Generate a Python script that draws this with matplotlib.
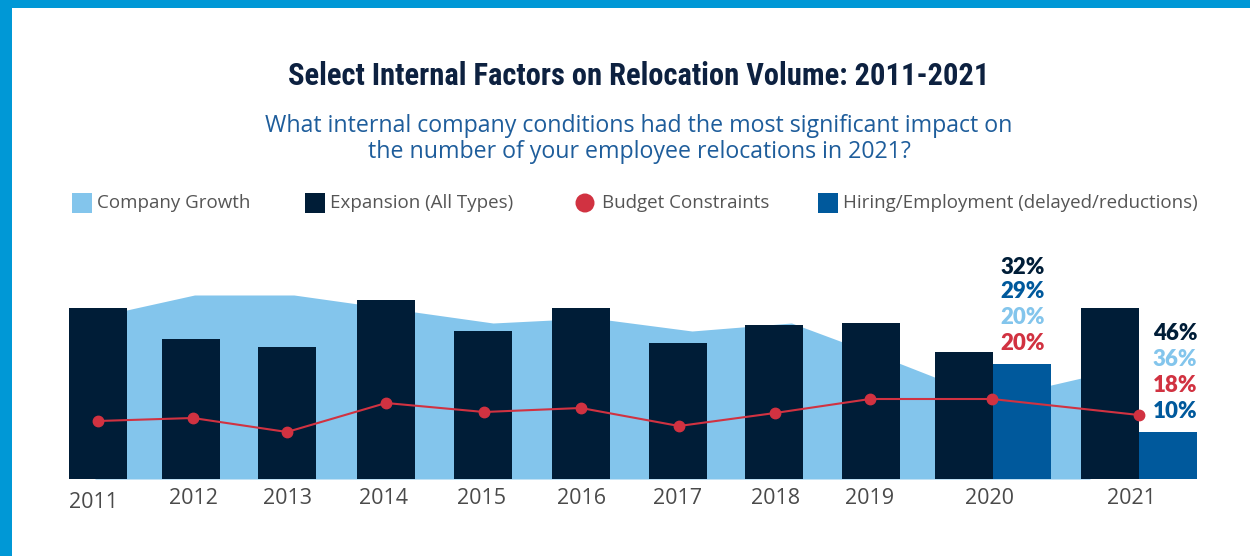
import numpy as np
import matplotlib
matplotlib.use("Agg")
import matplotlib.pyplot as plt
from matplotlib.patches import Rectangle, Circle
from matplotlib import font_manager

# ---------------- data ----------------
years = ['2011', '2012', '2013', '2014', '2015', '2016', '2017', '2018', '2019', '2020', '2021']
expansion = [42.75, 35, 33, 44.75, 37, 42.75, 34, 38.5, 39, 31.75, 42.75]
company_growth = [40.5, 46, 46, 42.5, 39, 40.25, 37, 39, 29.75, 20, 25.75]
budget = [14.5, 15.25, 11.75, 19, 16.75, 17.75, 13.25, 16.5, 20, 20, 16]
hiring_years = ['2020', '2021']
hiring = [28.75, 11.75]

labels_2020 = [32, 29, 20, 20]   # Expansion, Hiring, Company Growth, Budget
labels_2021 = [46, 36, 18, 10]   # Expansion, Company Growth, Budget, Hiring

legend_labels = ['Company Growth', 'Expansion (All Types)', 'Budget Constraints',
                 'Hiring/Employment (delayed/reductions)']

title = 'Select Internal Factors on Relocation Volume: 2011-2021'
subtitle1 = 'What internal company conditions had the most significant impact on'
subtitle2 = 'the number of your employee relocations in 2021?'

# ---------------- style ----------------
C_BORDER = '#0098d6'
C_DARK = '#001d37'
C_HIRE = '#00599c'
C_LIGHT = '#83c5ec'
C_RED = '#d13241'
C_TITLE = '#0d2140'
C_SUB = '#1e5d9b'
C_GRAY = '#555555'
C_YEAR = '#4a4a4a'

avail = {f.name for f in font_manager.fontManager.ttflist}
title_font = None
for cand in ['Liberation Sans Narrow', 'DejaVu Sans Condensed', 'Roboto Condensed']:
    if cand in avail:
        title_font = cand
        break
if title_font is None:
    title_font = 'Roboto'
    title_size = 17
else:
    title_size = 22
body_font = ['Open Sans', 'DejaVu Sans']
lab_font = ['Lato', 'DejaVu Sans']

W, H = 1250, 556
fig = plt.figure(figsize=(W / 100, H / 100), dpi=100)
fig.patch.set_facecolor('white')

# layout (pixel positions)
n = len(years)
base_px, top_px = 479, 250
px_per_unit = 4.0
dark_x = [98, 191, 287, 386, 483, 581, 678, 774, 871, 964, 1110]
hire_x = [1022, 1168]
red_x = [98, 193, 287, 386, 484, 581, 679, 775, 870, 992, 1139]
area_x = [95 + 99.5 * i for i in range(n)]
year_x = [94, 193, 287, 384, 481, 581, 678, 776, 870, 989, 1131]
bar_w = 58

ax = fig.add_axes([0, (H - base_px) / H, 1, (base_px - top_px) / H])
ax.set_xlim(0, W)
ax.set_ylim(0, (base_px - top_px) / px_per_unit)
ax.axis('off')

ax.fill_between(area_x, 0, company_growth, color=C_LIGHT, lw=0, zorder=1)
ax.bar(dark_x, expansion, width=bar_w, color=C_DARK, zorder=2)
ax.bar(hire_x, hiring, width=bar_w, color=C_HIRE, zorder=2)
ax.plot(red_x, budget, color=C_RED, lw=1.5, marker='o', ms=7.5, zorder=3)

for x, y in zip(year_x, years):
    dy = 6 if y == '2011' else 5
    ax.text(x, -dy, y, ha='center', va='center', fontsize=15.5, color=C_YEAR,
            family=body_font, clip_on=False)

# ---------------- overlay ----------------
ov = fig.add_axes([0, 0, 1, 1], zorder=5)
ov.set_xlim(0, W)
ov.set_ylim(H, 0)
ov.axis('off')
ov.patch.set_alpha(0)

ov.add_patch(Rectangle((0, 0), W, 8, color=C_BORDER, lw=0))
ov.add_patch(Rectangle((0, 0), 12, H, color=C_BORDER, lw=0))

ov.text(639, 76, title, ha='center', va='center', fontsize=title_size,
        fontweight='bold', color=C_TITLE, family=title_font)
ov.text(639, 126, subtitle1, ha='center', va='center', fontsize=16.7,
        color=C_SUB, family=body_font)
ov.text(639, 152, subtitle2, ha='center', va='center', fontsize=16.7,
        color=C_SUB, family=body_font)

# legend
leg_y = 203
leg_items = [(72, 'sq', C_LIGHT), (305, 'sq', C_DARK), (585, 'ci', C_RED), (818, 'sq', C_HIRE)]
for (x0, kind, col), lab in zip(leg_items, legend_labels):
    if kind == 'sq':
        ov.add_patch(Rectangle((x0, leg_y - 10), 20, 20, color=col, lw=0))
        tx = x0 + 25
    else:
        ov.add_patch(Circle((x0, leg_y), 9.5, color=col, lw=0))
        tx = x0 + 17
    ov.text(tx, leg_y, lab, ha='left', va='center', fontsize=13.5, color=C_GRAY,
            family=body_font)

# value labels for 2020 and 2021
cols_2020 = [C_DARK, C_HIRE, C_LIGHT, C_RED]
ys_2020 = [267, 292, 318, 344]
for v, c, yy in zip(labels_2020, cols_2020, ys_2020):
    ov.text(1023, yy, f'{v}%', ha='center', va='center', fontsize=16,
            fontweight='heavy', color=c, family=lab_font)
cols_2021 = [C_DARK, C_LIGHT, C_RED, C_HIRE]
ys_2021 = [333, 359, 386, 412]
for v, c, yy in zip(labels_2021, cols_2021, ys_2021):
    ov.text(1175, yy, f'{v}%', ha='center', va='center', fontsize=16,
            fontweight='heavy', color=c, family=lab_font)

fig.savefig('out.png', dpi=100, facecolor='white')
